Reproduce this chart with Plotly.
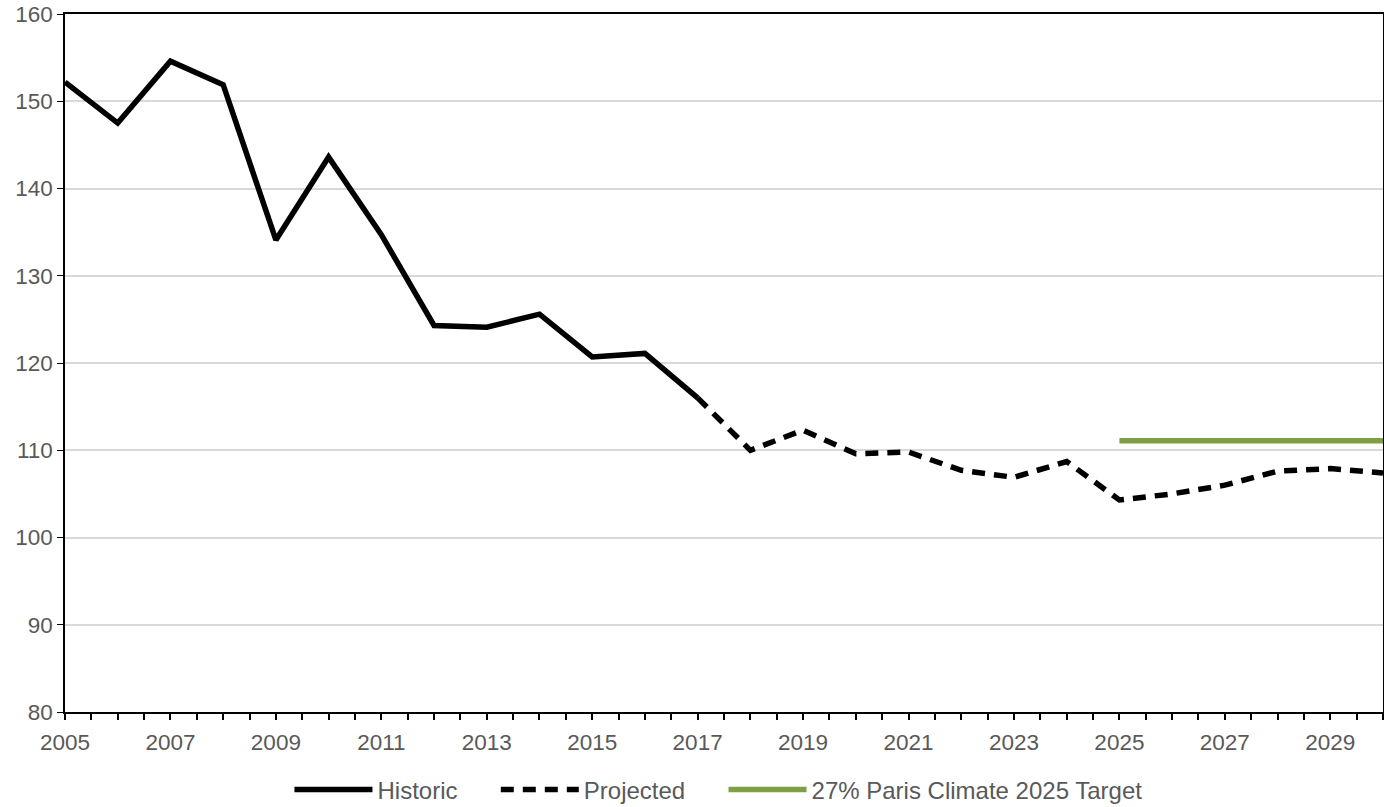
import plotly.graph_objects as go

hist_years = list(range(2005, 2018))
hist_vals = [152.2, 147.5, 154.6, 151.9, 134.1, 143.6, 134.7, 124.3, 124.1, 125.6, 120.7, 121.1, 116.0]
proj_years = list(range(2017, 2031))
proj_vals = [116.0, 110.0, 112.3, 109.6, 109.8, 107.7, 106.9, 108.7, 104.3, 105.0, 106.0, 107.6, 107.9, 107.4]
target_years = [2025, 2030]
target_vals = [111.1, 111.1]

series_names = ["Historic", "Projected", "27% Paris Climate 2025 Target"]

font = "Liberation Sans, Arial, sans-serif"
grey = "#595959"
pad = "\u00a0" * 5

fig = go.Figure()
fig.add_trace(go.Scatter(x=hist_years, y=hist_vals, mode="lines", name=series_names[0] + pad,
                         line=dict(color="black", width=5.5)))
fig.add_trace(go.Scatter(x=proj_years, y=proj_vals, mode="lines", name=series_names[1] + pad,
                         line=dict(color="black", width=5.5, dash="13px,9px")))
fig.add_trace(go.Scatter(x=target_years, y=target_vals, mode="lines", name=series_names[2],
                         line=dict(color="#7f9f45", width=5.5)))

fig.update_layout(
    width=1384, height=807,
    margin=dict(l=65, r=1, t=14, b=95, autoexpand=False),
    paper_bgcolor="white", plot_bgcolor="white",
    font=dict(family=font, size=22.5, color=grey),
    showlegend=True,
    legend=dict(orientation="h", x=0.4958, xanchor="center", y=-0.1117, yanchor="middle",
                font=dict(family=font, size=24, color=grey),
                itemwidth=78, tracegroupgap=0),
    xaxis=dict(range=[2005, 2030], tickmode="linear", tick0=2005, dtick=2,
               showgrid=False, zeroline=False,
               showline=True, linecolor="black", linewidth=2, mirror=True,
               ticks="outside", ticklen=6, tickcolor="black", tickwidth=1.5,
               ticklabelstandoff=3,
               minor=dict(dtick=0.5, tick0=2005, ticks="outside", ticklen=6, tickcolor="black",
                          tickwidth=1.5, showgrid=False),
               tickfont=dict(family=font, size=22.5, color=grey)),
    yaxis=dict(range=[80, 160], tickmode="linear", tick0=80, dtick=10,
               showgrid=True, gridcolor="#d9d9d9", gridwidth=1.5, zeroline=False,
               showline=True, linecolor="black", linewidth=1.5, mirror=True,
               ticks="outside", ticklen=6, tickcolor="black",
               tickfont=dict(family=font, size=22.5, color=grey)),
)

fig.write_html("out.html", config={"displayModeBar": False},
               post_script="document.body.style.margin='0';document.body.style.overflow='hidden';")
